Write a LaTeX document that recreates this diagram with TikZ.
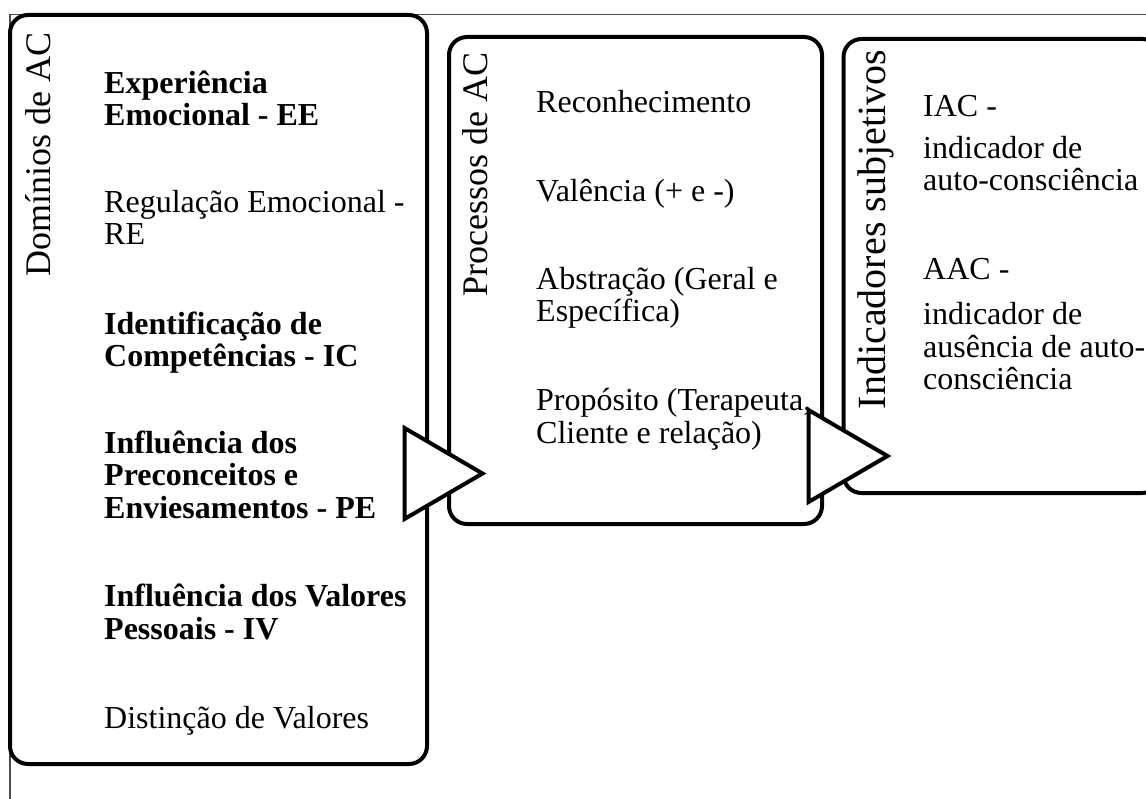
\documentclass[tikz,border=0pt]{standalone}
\usepackage{fontspec}
\setmainfont{Liberation Serif}
\usetikzlibrary{shapes.geometric}

\tikzset{
	caixa/.style={shape=rectangle, rounded corners=18pt, draw, line width=4pt, inner sep=0pt, outer sep=0pt},
	titulo/.style={rotate=90, anchor=base east, inner sep=0pt, font=\fontsize{36}{36}\selectfont},
	item/.style={anchor=base west, align=left, inner sep=0pt, font=\fontsize{32}{32.5}\selectfont},
	seta/.style={shape=isosceles triangle, isosceles triangle stretches, shape border rotate=0, draw, fill=white, line width=4pt, inner sep=0pt, outer sep=0pt, anchor=lower side},
	moldura/.style={draw=black!70, line width=1.5pt}
}

\begin{document}
\begin{tikzpicture}[x=1pt, y=-1pt]
	\useasboundingbox (0,0) rectangle (1146,799);
	\clip (0,0) rectangle (1146,799);
	
	\draw[moldura] (1146,14.5) -- (10,14.5) -- (10,799);
	
	% caixas
	\node (c1)[caixa, minimum width=417, minimum height=749] at (218.5,389.5) {};
	\node (c2)[caixa, minimum width=373, minimum height=487] at (635.5,280.5) {};
	\node (c3)[caixa, minimum width=317, minimum height=454] at (1002,266) {};
	
	% titulos (ancorados na ultima letra)
	\node (t1)[titulo] at (50,32) {Domínios de AC};
	\node (t2)[titulo] at (487,52) {Processos de AC};
	\node (t3)[titulo, font=\fontsize{40}{40}\selectfont] at (885,50) {Indicadores subjetivos};
	
	% dominios (base = ultima linha)
	\node (d1)[item] at (104,126) {\textbf{Experiência} \\ \textbf{Emocional - EE}};
	\node (d2)[item] at (104,245) {Regulação Emocional - \\ RE};
	\node (d3)[item] at (104,367) {\textbf{Identificação de} \\ \textbf{Competências - IC}};
	\node (d4)[item] at (104,518) {\textbf{Influência dos} \\ \textbf{Preconceitos e} \\ \textbf{Enviesamentos - PE}};
	\node (d5)[item] at (104,639) {\textbf{Influência dos Valores} \\ \textbf{Pessoais - IV}};
	\node (d6)[item] at (104,728) {Distinção de Valores};
	
	% processos
	\node (p1)[item] at (536,113) {Reconhecimento};
	\node (p2)[item] at (536,202) {Valência (+ e -)};
	\node (p3)[item] at (536,322) {Abstração (Geral e \\ Específica)};
	\node (p4)[item] at (536,443) {Propósito (Terapeuta, \\ Cliente e relação)};
	
	% indicadores
	\node (n1)[item] at (923,117) {IAC -};
	\node (n2)[item] at (923,191) {indicador de \\ auto-consciência};
	\node (n3)[item] at (923,280) {AAC -};
	\node (n4)[item] at (923,390) {indicador de \\ ausência de auto- \\ consciência};
	
	% setas
	\node (s1)[seta, minimum width=91, minimum height=78] at (404.5,473.5) {};
	\node (s2)[seta, minimum width=92, minimum height=79] at (808.5,456) {};
\end{tikzpicture}
\end{document}
